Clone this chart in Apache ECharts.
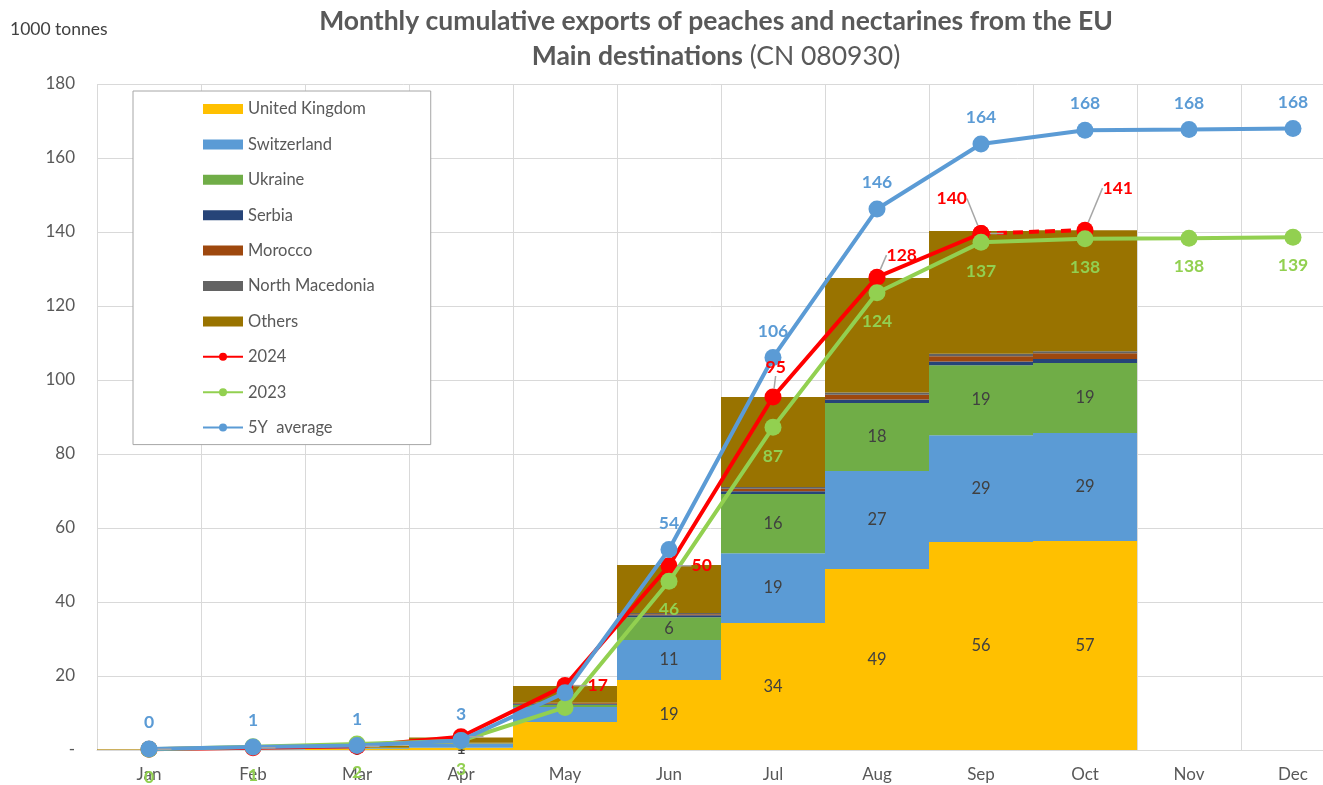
<!DOCTYPE html>
<html>
<head>
<meta charset="utf-8">
<title>Peaches and nectarines exports</title>
<script src="https://cdn.jsdelivr.net/npm/echarts@6/dist/echarts.min.js"></script>
<style>
  html, body { margin: 0; padding: 0; background: #fff; }
  #chart { width: 1323px; height: 785px; }
</style>
</head>
<body>
<div id="chart"></div>
<script>
// data (1000 tonnes, cumulative)
var months = ['Jan', 'Feb', 'Mar', 'Apr', 'May', 'Jun', 'Jul', 'Aug', 'Sep', 'Oct', 'Nov', 'Dec'];
var yTicks = [0, 20, 40, 60, 80, 100, 120, 140, 160, 180];

var ukData      = [0.05, 0.1, 0.3, 0.6, 7.6, 18.9, 34.3, 48.9, 56.2, 56.5, null, null];
var swissData   = [0.05, 0.1, 0.2, 1.1, 4.0, 10.8, 18.9, 26.5, 28.9, 29.2, null, null];
var ukraineData = [0.0, 0.05, 0.1, 0.1, 0.6, 6.2, 16.0, 18.4, 18.9, 18.9, null, null];
var serbiaData  = [0.0, 0.0, 0.0, 0.05, 0.3, 0.5, 0.7, 0.9, 1.0, 1.1, null, null];
var moroccoData = [0.0, 0.0, 0.0, 0.05, 0.2, 0.3, 0.7, 1.3, 1.4, 1.5, null, null];
var macedoniaData = [0.0, 0.0, 0.0, 0.05, 0.1, 0.3, 0.5, 0.6, 0.7, 0.6, null, null];
var othersData  = [0.1, 0.3, 0.6, 1.4, 4.5, 13.0, 24.3, 31.0, 33.2, 32.7, null, null];

var line2024 = [0.2, 0.6, 1.0, 3.6, 17.4, 49.8, 95.4, 127.8, 139.6];
var line2024est = [null, null, null, null, null, null, null, null, 139.6, 140.5];
var line2023 = [0.2, 0.9, 1.6, 2.5, 11.5, 45.6, 87.2, 123.6, 137.2, 138.2, 138.3, 138.6];
var line5y = [0.3, 0.8, 1.2, 2.6, 15.5, 54.2, 106.1, 146.2, 163.8, 167.5, 167.7, 168.0];

var FONT = 'Lato';
var TXT = '#595959';

function round0(p) {
  return Math.round(p.value);
}

// which months get a value label in the stacked bars
function barLabels(arr, shown) {
  return arr.map(function (v, i) {
    if (v == null) return v;
    return { value: v, label: { show: shown.indexOf(i) >= 0 } };
  });
}

function barSeries(name, color, data) {
  return {
    name: name,
    type: 'bar',
    stack: 'dest',
    barWidth: '100%',
    barCategoryGap: 0,
    itemStyle: { color: color },
    label: {
      show: false,
      position: 'inside',
      color: '#404040',
      fontFamily: FONT,
      fontSize: 16.5,
      formatter: round0
    },
    data: data,
    z: 1
  };
}

var redLabel = {
  show: true, position: 'right', distance: 14,
  color: '#FF0000', fontFamily: FONT, fontSize: 17.5, fontWeight: 'bold'
};

var option = {
  animation: false,
  textStyle: { fontFamily: FONT },
  title: {
    left: 711,
    top: -1,
    textAlign: 'center',
    text: '{b|Monthly cumulative exports of peaches and nectarines from the EU}\n{b|Main destinations}{n| (CN 080930)}',
    textStyle: {
      rich: {
        b: { fontFamily: FONT, fontSize: 26.5, fontWeight: 'bold', color: TXT, lineHeight: 35 },
        n: { fontFamily: FONT, fontSize: 26.5, fontWeight: 'normal', color: TXT, lineHeight: 35 }
      }
    }
  },
  graphic: [{
    type: 'text',
    left: 10,
    top: 20,
    style: { text: '1000 tonnes', fill: '#404040', fontFamily: FONT, fontSize: 17.5 }
  }],
  legend: {
    orient: 'vertical',
    left: 133,
    top: 91,
    itemWidth: 40,
    itemHeight: 10,
    itemGap: 17.4,
    padding: [9, 56, 8, 69],
    backgroundColor: '#fff',
    borderColor: '#a6a6a6',
    borderWidth: 1,
    textStyle: { color: TXT, fontFamily: FONT, fontSize: 16.5, lineHeight: 18 },
    data: [
      { name: 'United Kingdom', icon: 'rect' },
      { name: 'Switzerland', icon: 'rect' },
      { name: 'Ukraine', icon: 'rect' },
      { name: 'Serbia', icon: 'rect' },
      { name: 'Morocco', icon: 'rect' },
      { name: 'North Macedonia', icon: 'rect' },
      { name: 'Others', icon: 'rect' },
      '2024', '2023', '5Y  average'
    ]
  },
  grid: { left: 97, top: 84, width: 1248, height: 666, outerBoundsMode: 'none' },
  xAxis: {
    type: 'category',
    data: months,
    boundaryGap: true,
    axisLine: { lineStyle: { color: '#d9d9d9' } },
    axisTick: { show: false },
    axisLabel: { color: TXT, fontFamily: FONT, fontSize: 17, margin: 16 },
    splitLine: { show: true, lineStyle: { color: '#d9d9d9', width: 1 } }
  },
  yAxis: {
    type: 'value',
    min: yTicks[0],
    max: yTicks[yTicks.length - 1],
    interval: 20,
    axisLine: { show: false },
    axisTick: { show: false },
    axisLabel: {
      color: TXT, fontFamily: FONT, fontSize: 17, margin: 22,
      formatter: function (v) { return v === 0 ? '-' : v; }
    },
    splitLine: { lineStyle: { color: '#d9d9d9', width: 1 } }
  },
  series: [
    barSeries('United Kingdom', '#FFC000', barLabels(ukData, [0, 1, 2, 3, 5, 6, 7, 8, 9])),
    barSeries('Switzerland', '#5B9BD5', barLabels(swissData, [3, 5, 6, 7, 8, 9])),
    barSeries('Ukraine', '#70AD47', barLabels(ukraineData, [5, 6, 7, 8, 9])),
    barSeries('Serbia', '#264478', serbiaData),
    barSeries('Morocco', '#9E480E', moroccoData),
    barSeries('North Macedonia', '#636363', macedoniaData),
    barSeries('Others', '#997300', othersData),
    {
      name: '2024',
      type: 'line',
      data: line2024,
      symbol: 'circle',
      symbolSize: 17,
      lineStyle: { color: '#FF0000', width: 4 },
      itemStyle: { color: '#FF0000' },
      z: 5
    },
    {
      name: '2024 est',
      type: 'line',
      data: line2024est,
      symbol: 'circle',
      symbolSize: 17,
      lineStyle: { color: '#FF0000', width: 4, type: [10, 6] },
      itemStyle: { color: '#FF0000' },
      label: Object.assign({}, redLabel, {
        formatter: function (p) { return p.dataIndex < 9 ? '' : Math.round(p.value); }
      }),
      labelLine: { show: true, lineStyle: { color: '#a6a6a6', width: 1.5 } },
      labelLayout: function (p) {
        if (p.dataIndex === 9) return { dx: -5, dy: -42 };
        return {};
      },
      z: 5
    },
    {
      name: '2023',
      type: 'line',
      data: line2023,
      symbol: 'circle',
      symbolSize: 17,
      lineStyle: { color: '#92D050', width: 4 },
      itemStyle: { color: '#92D050' },
      label: {
        show: true, position: 'bottom', distance: 11,
        color: '#92D050', fontFamily: FONT, fontSize: 17.5, fontWeight: 'bold',
        formatter: function (p) { return p.dataIndex === 4 ? '' : Math.round(p.value); }
      },
      z: 6
    },
    {
      name: '5Y  average',
      type: 'line',
      data: line5y,
      symbol: 'circle',
      symbolSize: 17,
      lineStyle: { color: '#5B9BD5', width: 4 },
      itemStyle: { color: '#5B9BD5' },
      label: {
        show: true, position: 'top', distance: 9,
        color: '#5B9BD5', fontFamily: FONT, fontSize: 17.5, fontWeight: 'bold',
        formatter: function (p) { return p.dataIndex === 4 ? '' : Math.round(p.value); }
      },
      z: 7
    },
    // 2024 value labels, kept on top of every line like in the original
    {
      name: '2024 labels',
      type: 'line',
      data: line2024,
      symbol: 'circle',
      symbolSize: 17,
      lineStyle: { opacity: 0 },
      itemStyle: { color: 'transparent' },
      emphasis: { disabled: true },
      label: Object.assign({}, redLabel, {
        formatter: function (p) { return p.dataIndex < 4 ? '' : Math.round(p.value); }
      }),
      labelLine: { show: true, lineStyle: { color: '#a6a6a6', width: 1.5 } },
      labelLayout: function (p) {
        if (p.dataIndex === 6) return { dx: -30, dy: -30 };
        if (p.dataIndex === 7) return { dx: -13, dy: -22 };
        if (p.dataIndex === 8) return { dx: -67, dy: -35 };
        return {};
      },
      z: 8
    }
  ]
};

var chart = echarts.init(document.getElementById('chart'));
chart.setOption(option);
</script>
</body>
</html>
